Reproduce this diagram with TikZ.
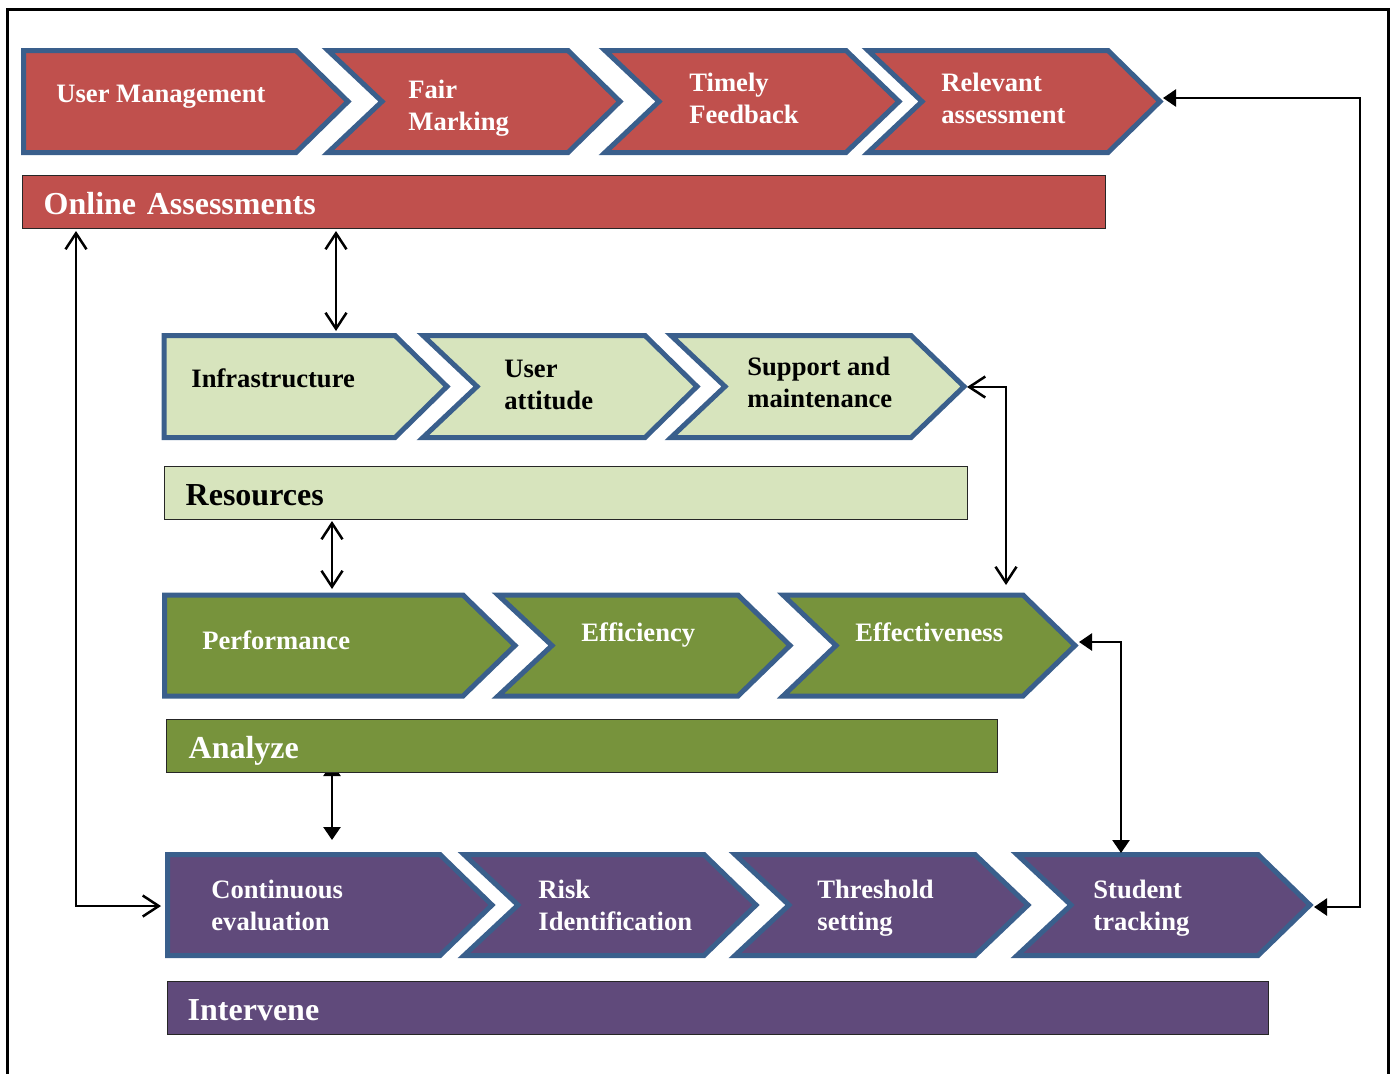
\documentclass[tikz,border=0pt]{standalone}
\usepackage{fontspec}
\setmainfont{Liberation Serif}
\usetikzlibrary{arrows.meta}
\definecolor{redf}{HTML}{C0504D}
\definecolor{chevborder}{HTML}{3A5F8C}
\definecolor{lgreen}{HTML}{D7E4BD}
\definecolor{olive}{HTML}{77933C}
\definecolor{purp}{HTML}{604A7B}
\newcommand{\chevshape}[7]{%
  \path[draw=chevborder, line width=2.5pt, fill=#1, line join=miter]
    (#2,#6) -- (#4,#6) -- (#5,{(#6+#7)/2}) -- (#4,#7) -- (#2,#7) -- (#3,{(#6+#7)/2}) -- cycle;}
\tikzset{
  ctxt/.style={anchor=west, align=left, inner sep=0pt, font=\bfseries\fontsize{13.3pt}{16pt}\selectfont},
  bar/.style={anchor=north west, align=left, draw=black!85, line width=0.7pt, inner ysep=0pt,
     minimum height=26.5pt, text height=12.5pt, text depth=0pt, font=\bfseries\fontsize{16pt}{19pt}\selectfont},
  conn/.style={line width=1.25pt, black},
  openhead/.style={{Straight Barb[length=8pt,width=10.5pt]}-{Straight Barb[length=8pt,width=10.5pt]}},
  fillhead/.style={{Triangle[length=6.5pt,width=8.5pt]}-{Triangle[length=6.5pt,width=8.5pt]}},
}
\begin{document}
\begin{tikzpicture}[x=0.5pt,y=-0.5pt]
\useasboundingbox (0,0) rectangle (1396,1073);
% frame
\draw[line width=1.5pt] (7,1090) -- (7,9) -- (1388,9) -- (1388,1090);

% ---------- Row 1 (red)
\chevshape{redf}{23.5}{23.5}{296}{348}{50.5}{152.5}
\chevshape{redf}{328}{382}{568}{620}{50.5}{152.5}
\chevshape{redf}{605}{659}{846}{899}{50.5}{152.5}
\chevshape{redf}{868}{922}{1108}{1160}{50.5}{152.5}
\node[ctxt, text=white] (um) at (56,97) {User Management};
\node[ctxt, text=white] (fm) at (408,108) {Fair\\Marking};
\node[ctxt, text=white] (tf) at (689,98) {Timely\\Feedback};
\node[ctxt, text=white] (ra) at (941,98) {Relevant\\assessment};
\coordinate (raT) at (1163,98);

\node[bar, fill=redf, text=white, inner xsep=10.5pt, text width=520.5pt] (oa) at (22,175) {Online Assessments};

% ---------- Row 2 (light green)
\chevshape{lgreen}{164}{164}{395}{447}{335.5}{437.5}
\chevshape{lgreen}{423}{477}{645}{697}{335.5}{437.5}
\chevshape{lgreen}{671}{725}{911}{964}{335.5}{437.5}
\node[ctxt, text=black] (inf) at (191,378) {Infrastructure};
\node[ctxt, text=black] (ua) at (504,385) {User\\attitude};
\node[ctxt, text=black] (sm) at (747,382) {Support and\\maintenance};
\coordinate (smT) at (967,387);

\node[bar, fill=lgreen, text=black, inner xsep=10.5pt, text width=380.5pt] (res) at (164,466) {Resources};

% ---------- Row 3 (olive)
\chevshape{olive}{164.5}{164.5}{463}{515}{595}{696}
\chevshape{olive}{498}{552}{738}{790}{595}{696}
\chevshape{olive}{783}{836}{1023}{1075}{595}{696}
\node[ctxt, text=white] (perf) at (202,640) {Performance};
\node[ctxt, text=white] (effi) at (581,635) {Efficiency};
\node[ctxt, text=white] (effe) at (855,632) {Effectiveness};
\coordinate (effeT) at (1079,642);
\coordinate (effeTop) at (1006,585);

% arrow Analyze -> Continuous (drawn before the bar, top head mostly hidden)
\coordinate (anB) at (332,763);
\coordinate (ceTop) at (332,840);
\draw[conn, fillhead] (anB) -- (ceTop);

\node[bar, fill=olive, text=white, inner xsep=11pt, text width=393.5pt] (an) at (166,719) {Analyze};

% ---------- Row 4 (purple)
\chevshape{purp}{167.5}{167.5}{440}{492}{854.5}{955.5}
\chevshape{purp}{464}{518}{704}{756}{854.5}{955.5}
\chevshape{purp}{735}{789}{975}{1028}{854.5}{955.5}
\chevshape{purp}{1017}{1071}{1258}{1310}{854.5}{955.5}
\node[ctxt, text=white] (ce) at (211,905) {Continuous\\evaluation};
\node[ctxt, text=white] (ri) at (538,905) {Risk\\Identification};
\node[ctxt, text=white] (ts) at (817,908) {Threshold\\setting};
\node[ctxt, text=white] (st) at (1093,908) {Student\\tracking};
\coordinate (ceW) at (161,906);
\coordinate (stTop) at (1121,853);
\coordinate (stT) at (1314,907);

\node[bar, fill=purp, text=white, inner xsep=10pt, text width=530.5pt] (iv) at (167,981) {Intervene};

% ---------- connectors
\coordinate (oaA) at (76,231);
\coordinate (oaB) at (336,231);
\coordinate (infTop) at (336,331);
\coordinate (resB) at (332,521);
\coordinate (perfTop) at (332,589);
\coordinate (rightX) at (1360,98);

\draw[conn, openhead] (oaA) |- (ceW);
\draw[conn, openhead] (oaB) -- (infTop);
\draw[conn, openhead] (resB) -- (perfTop);
\draw[conn, openhead] (smT) -| (effeTop);
\draw[conn, fillhead] (effeT) -| (stTop);
\draw[conn, fillhead] (stT) -| (rightX) -- (raT);
\end{tikzpicture}
\end{document}
